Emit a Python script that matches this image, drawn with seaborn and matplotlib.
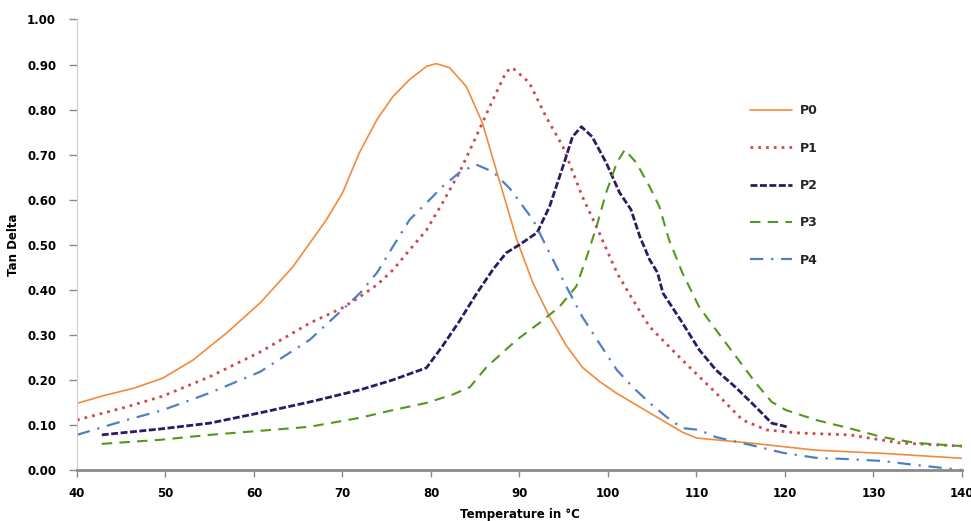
import numpy as np
import pandas as pd
import matplotlib
matplotlib.use("Agg")
import matplotlib.pyplot as plt
import seaborn as sns

# style
sns.set_theme(style="white")
plt.rcParams['font.family'] = ['DejaVu Sans']

# data (temperature in C, tan delta)
p0_temp = [40, 43, 46.5, 49.7, 53.1, 56.9, 60.7, 64.4, 68.2, 70.0, 71.9, 73.9, 75.7, 77.6, 79.5, 80.6,
           82.1, 84.0, 85.8, 87.7, 89.7, 91.5, 93.4, 95.3, 97.1, 99.0, 101.0, 104.7, 108.4, 110.0,
           116.0, 123.5, 131.0, 140]
p0_tan = [0.148, 0.165, 0.182, 0.204, 0.244, 0.304, 0.371, 0.451, 0.556, 0.615, 0.704, 0.778, 0.829,
          0.867, 0.896, 0.902, 0.893, 0.851, 0.771, 0.644, 0.511, 0.416, 0.340, 0.276, 0.228, 0.197,
          0.170, 0.127, 0.084, 0.071, 0.060, 0.044, 0.037, 0.026]

p1_temp = [40, 45.6, 49.7, 55.0, 60.7, 66.3, 70.0, 72.0, 73.9, 75.7, 77.6, 79.5, 81.3, 83.2, 85.1,
           87.0, 88.5, 89.2, 91.1, 93.0, 94.9, 97.1, 99.0, 101.0, 102.8, 104.7, 108.4, 112.2, 115.2,
           117.9, 121.7, 127.3, 133.0, 140]
p1_tan = [0.111, 0.140, 0.164, 0.207, 0.262, 0.326, 0.360, 0.385, 0.411, 0.444, 0.489, 0.533, 0.593,
          0.660, 0.740, 0.822, 0.884, 0.893, 0.860, 0.784, 0.718, 0.607, 0.527, 0.438, 0.378, 0.318,
          0.244, 0.171, 0.111, 0.089, 0.082, 0.078, 0.060, 0.053]

p2_temp = [42.8, 49.4, 55.0, 60.7, 66.3, 72.0, 75.7, 79.5, 81.3, 83.2, 85.1, 87.0, 88.5, 90.0, 92.0,
           93.4, 94.9, 96.0, 97.0, 98.2, 99.8, 101.3, 102.6, 103.6, 104.7, 105.6, 106.2, 108.4, 110.3,
           112.2, 114.4, 116.7, 118.5, 120.2]
p2_tan = [0.078, 0.091, 0.104, 0.127, 0.151, 0.178, 0.200, 0.227, 0.275, 0.330, 0.390, 0.445, 0.482,
          0.500, 0.527, 0.585, 0.673, 0.740, 0.762, 0.740, 0.682, 0.616, 0.578, 0.518, 0.467, 0.438,
          0.393, 0.327, 0.267, 0.222, 0.184, 0.140, 0.104, 0.096]

p3_temp = [42.8, 49.4, 55.0, 60.7, 66.3, 72.0, 75.7, 79.5, 82.4, 84.4, 86.3, 89.7, 92.3, 94.5, 96.4,
           97.5, 98.7, 99.8, 101.0, 101.9, 103.2, 104.7, 105.8, 106.9, 108.4, 110.3, 112.2, 114.5,
           116.7, 118.5, 120.1, 123.5, 127.2, 131.0, 134.8, 140]
p3_tan = [0.058, 0.067, 0.078, 0.087, 0.096, 0.116, 0.133, 0.149, 0.167, 0.184, 0.229, 0.289, 0.327,
          0.362, 0.407, 0.467, 0.540, 0.616, 0.682, 0.711, 0.682, 0.629, 0.585, 0.511, 0.438, 0.362,
          0.311, 0.251, 0.193, 0.151, 0.133, 0.111, 0.093, 0.073, 0.060, 0.053]

p4_temp = [40, 45.6, 49.7, 55.0, 60.7, 66.3, 70.0, 72.0, 73.9, 75.7, 77.6, 79.5, 81.3, 83.2, 85.1,
           87.0, 88.9, 91.5, 93.4, 95.3, 97.1, 99.0, 101.0, 102.8, 104.7, 106.6, 108.4, 110.3, 112.2,
           116.0, 119.8, 123.5, 127.3, 131.0, 134.8, 140]
p4_tan = [0.078, 0.111, 0.133, 0.171, 0.218, 0.289, 0.356, 0.393, 0.438, 0.496, 0.556, 0.593, 0.629,
          0.660, 0.678, 0.662, 0.625, 0.556, 0.482, 0.407, 0.340, 0.282, 0.222, 0.184, 0.149, 0.118,
          0.093, 0.089, 0.073, 0.056, 0.038, 0.027, 0.024, 0.020, 0.011, 0.0]

series = [
    ("P0", p0_temp, p0_tan, "#f28a3c", "-", 1.2),
    ("P1", p1_temp, p1_tan, "#cc4a52", (0, (1, 1.8)), 2.0),
    ("P2", p2_temp, p2_tan, "#2b1a66", (0, (2.5, 0.9)), 2.0),
    ("P3", p3_temp, p3_tan, "#52981c", (0, (5, 3.5)), 1.5),
    ("P4", p4_temp, p4_tan, "#4f7fc4", (0, (6, 3.5, 1, 3.5)), 1.6),
]

fig = plt.figure(figsize=(9.71, 5.21), dpi=100)
ax = fig.add_axes([0.0793, 0.0979, 0.9114, 0.8647])

for name, xs, ys, col, ls, lw in series:
    df = pd.DataFrame({"temp": xs, "tan": ys})
    sns.lineplot(data=df, x="temp", y="tan", ax=ax, color=col, linestyle=ls,
                 linewidth=lw, label=name, sort=False, estimator=None)

ax.set_xlim(40, 140)
ax.set_ylim(0, 1.0)
ax.set_xticks(np.arange(40, 141, 10))
ax.set_yticks(np.arange(0, 1.01, 0.1))
ax.set_yticklabels([f"{v:.2f}" for v in np.arange(0, 1.01, 0.1)])

for s in ["top", "right"]:
    ax.spines[s].set_visible(False)
ax.spines["left"].set_color("#cfcfcf")
ax.spines["left"].set_linewidth(0.8)
ax.spines["bottom"].set_color("#8a8a8a")
ax.spines["bottom"].set_linewidth(2.0)

ax.tick_params(axis="y", direction="out", length=6, width=1, color="#8a8a8a",
               pad=9, labelsize=8.5, left=True)
ax.tick_params(axis="x", direction="out", length=5, width=1, color="#8a8a8a",
               pad=7, labelsize=8.5, bottom=True)
for lab in ax.get_xticklabels() + ax.get_yticklabels():
    lab.set_fontweight("bold")
    lab.set_color("black")

ax.set_xlabel("Temperature in °C", fontsize=8.5, fontweight="bold", color="black", labelpad=6)
ax.set_ylabel("Tan Delta", fontsize=8.5, fontweight="bold", color="black", labelpad=5)
ax.grid(False)

leg = ax.legend(loc="upper left", bbox_to_anchor=(0.772, 0.80), bbox_transform=fig.transFigure,
                frameon=False, fontsize=9, handlelength=3.4, handletextpad=0.6,
                labelspacing=1.95, borderpad=0, borderaxespad=0)
for t in leg.get_texts():
    t.set_fontweight("bold")

fig.savefig("out.png", dpi=100)
